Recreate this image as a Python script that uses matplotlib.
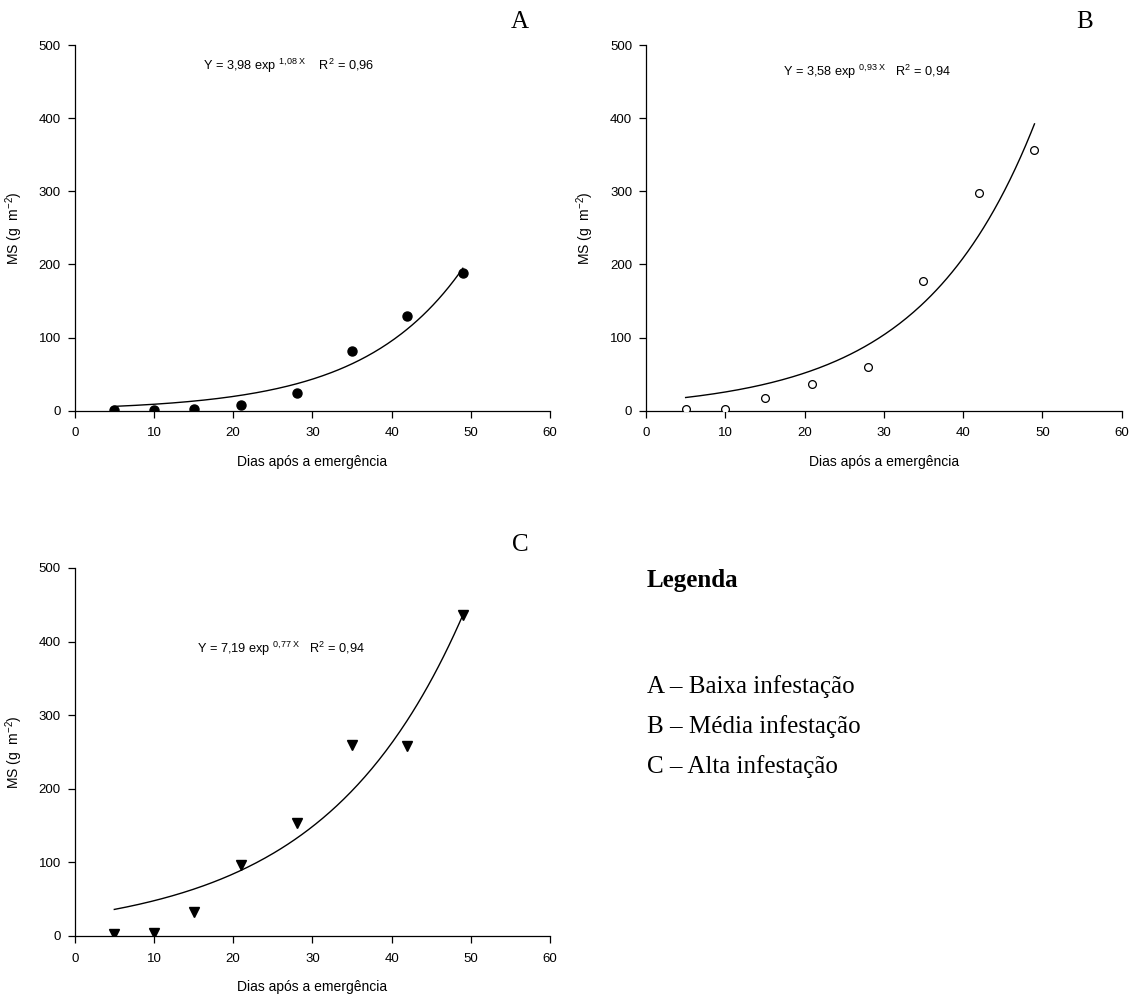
import numpy as np
import matplotlib
matplotlib.use("Agg")
import matplotlib.pyplot as plt

plt.rcParams['font.family'] = ['Liberation Sans', 'DejaVu Sans']
plt.rcParams['mathtext.fontset'] = 'custom'
plt.rcParams['mathtext.rm'] = 'Liberation Sans'
plt.rcParams['mathtext.it'] = 'Liberation Sans:italic'
plt.rcParams['mathtext.bf'] = 'Liberation Sans:bold'

# ---- data ----
days = [5, 10, 15, 21, 28, 35, 42, 49]
ms_baixa = [1, 1, 3, 8, 24, 81, 130, 188]
ms_media = [2, 2, 17, 36, 60, 178, 297, 357]
ms_alta = [2, 4, 33, 97, 153, 260, 258, 436]

# fitted exponential curves (y = a * exp(b * day)), as drawn
fit_baixa = (3.98, 0.0794)
fit_media = (12.7, 0.0700)
fit_alta = (27.1, 0.0567)

eq_baixa = r"Y = 3,98 exp $^{\mathrm{1{,}08\ X}}$    R$^{\mathrm{2}}$ = 0,96"
eq_media = r"Y = 3,58 exp $^{\mathrm{0{,}93\ X}}$   R$^{\mathrm{2}}$ = 0,94"
eq_alta = r"Y = 7,19 exp $^{\mathrm{0{,}77\ X}}$   R$^{\mathrm{2}}$ = 0,94"

x_ticks = [0, 10, 20, 30, 40, 50, 60]
y_ticks = [0, 100, 200, 300, 400, 500]

W, H = 1138, 1001
fig = plt.figure(figsize=(W / 100, H / 100), dpi=100)


def make_ax(left_px, right_px, top_px, bottom_px):
    return fig.add_axes([left_px / W, 1 - bottom_px / H,
                         (right_px - left_px) / W, (bottom_px - top_px) / H])


axA = make_ax(74.7, 550, 45, 410.7)
axB = make_ax(646, 1121.7, 45, 410.7)
axC = make_ax(74.7, 550, 568, 935.9)

panels = [
    (axA, ms_baixa, fit_baixa, eq_baixa, (16.2, 471),
     dict(marker='o', color='black', markersize=6.5, mfc='black', mec='black')),
    (axB, ms_media, fit_media, eq_media, (17.3, 463),
     dict(marker='o', color='black', markersize=5.6, mfc='white', mec='black', mew=0.9)),
    (axC, ms_alta, fit_alta, eq_alta, (15.4, 390),
     dict(marker='v', color='black', markersize=6.8, mfc='black', mec='black')),
]

for ax, vals, (a, b), eq, eqpos, mstyle in panels:
    xs = np.linspace(days[0], days[-1], 200)
    ax.plot(xs, a * np.exp(b * xs), color='black', lw=1.0, zorder=2)
    ax.plot(days, vals, linestyle='none', zorder=3, **mstyle)
    ax.set_xlim(0, 60)
    ax.set_ylim(0, 500)
    ax.set_xticks(x_ticks)
    ax.set_yticks(y_ticks)
    for s in ['top', 'right']:
        ax.spines[s].set_visible(False)
    for s in ['left', 'bottom']:
        ax.spines[s].set_linewidth(0.9)
    ax.tick_params(axis='both', direction='out', length=5, width=0.9, labelsize=9.5)
    ax.tick_params(axis='x', pad=7)
    ax.tick_params(axis='y', pad=5)
    ax.set_xlabel('Dias após a emergência', fontsize=10, labelpad=11)
    ax.set_ylabel(r'MS (g  m$^{\mathrm{-2}}$)', fontsize=10, labelpad=10)
    ax.text(eqpos[0], eqpos[1], eq, fontsize=9.2, ha='left', va='center')

serif = ['Liberation Serif', 'DejaVu Serif']
fig.text(520 / W, 1 - 22 / H, 'A', fontsize=18, family=serif, ha='center', va='center')
fig.text(1085 / W, 1 - 22 / H, 'B', fontsize=18, family=serif, ha='center', va='center')
fig.text(520 / W, 1 - 545 / H, 'C', fontsize=18, family=serif, ha='center', va='center')

legend_title = 'Legenda'
legend_items = ['A – Baixa infestação', 'B – Média infestação', 'C – Alta infestação']
fig.text(647 / W, 1 - 580 / H, legend_title, fontsize=18, family=serif,
         fontweight='bold', ha='left', va='center')
for i, item in enumerate(legend_items):
    fig.text(647 / W, 1 - (687 + 40 * i) / H, item, fontsize=18, family=serif,
             ha='left', va='center')

fig.savefig('out.png', dpi=100)
